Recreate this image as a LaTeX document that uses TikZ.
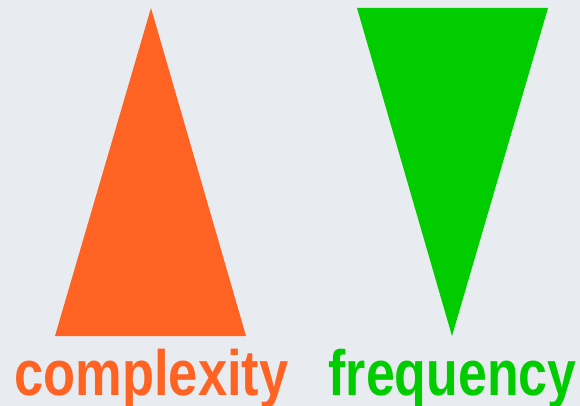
\documentclass[tikz,border=0pt]{standalone}
\usepackage{fontspec}
\setmainfont{Liberation Sans}
\definecolor{bgc}{RGB}{232,236,240}
\definecolor{orng}{RGB}{255,99,35}
\definecolor{grn}{RGB}{0,204,0}
\begin{document}
\begin{tikzpicture}[x=1pt,y=-1pt,
  lbl/.style={inner sep=0pt, anchor=base, font=\fontsize{64}{64}\selectfont\bfseries}]
\useasboundingbox (0,0) rectangle (580,406);
\clip (0,0) rectangle (580,406);
\fill[bgc] (0,0) rectangle (580,406);
\fill[orng] (151,8) -- (246,336) -- (55,336) -- cycle;
\fill[grn] (357,8) -- (548,8) -- (452,336) -- cycle;
\node[lbl, text=orng] (cx) at (151.5,395) {\scalebox{0.82}[1]{complexity}};
\node[lbl, text=grn] (fq) at (452.5,395) {\scalebox{0.81}[1]{frequency}};
\end{tikzpicture}
\end{document}
